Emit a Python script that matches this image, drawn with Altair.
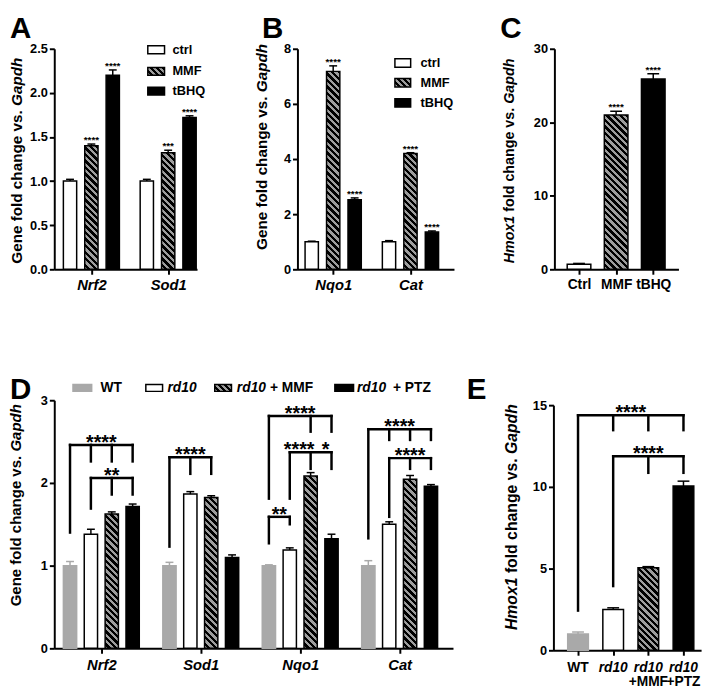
import math
import altair as alt
import pandas as pd

FONT = "Liberation Sans"

# ---------------- data ----------------
A_GENES = ["Nrf2", "Sod1"]
A_GROUPS = ["ctrl", "MMF", "tBHQ"]
A_MEAN = [[1.00, 1.40, 2.20], [1.00, 1.32, 1.72]]
A_ERR = [[0.02, 0.02, 0.06], [0.02, 0.03, 0.02]]
A_SIG = [["", "****", "****"], ["", "***", "****"]]

B_GENES = ["Nqo1", "Cat"]
B_GROUPS = ["ctrl", "MMF", "tBHQ"]
B_MEAN = [[1.00, 7.18, 2.52], [1.00, 4.20, 1.35]]
B_ERR = [[0.02, 0.20, 0.07], [0.04, 0.03, 0.04]]
B_SIG = [["", "****", "****"], ["", "****", "****"]]

C_GROUPS = ["Ctrl", "MMF", "tBHQ"]
C_MEAN = [0.70, 21.0, 25.9]
C_ERR = [0.10, 0.50, 0.70]
C_SIG = ["", "****", "****"]

D_GENES = ["Nrf2", "Sod1", "Nqo1", "Cat"]
D_GROUPS = ["WT", "rd10", "MMF", "PTZ"]
D_MEAN = [[1.00, 1.38, 1.625, 1.715],
          [1.00, 1.865, 1.825, 1.10],
          [1.00, 1.19, 2.085, 1.325],
          [1.00, 1.50, 2.045, 1.96]]
D_ERR = [[0.05, 0.06, 0.025, 0.03],
         [0.04, 0.03, 0.02, 0.03],
         [0.01, 0.025, 0.04, 0.055],
         [0.06, 0.03, 0.045, 0.02]]
# (gene, left bar, tick bars, bracket top, left leg end, tick end,
#  labels as (text, from bar, to bar, fraction of the way))
D_BRACKETS = [
    ("Nrf2", "WT", ["rd10", "MMF", "PTZ"], 2.46, 1.40, 2.26, [("****", "WT", "PTZ", 0.5)]),
    ("Nrf2", "rd10", ["MMF", "PTZ"], 2.06, 1.69, 1.86, [("**", "rd10", "PTZ", 0.5)]),
    ("Sod1", "WT", ["rd10", "MMF"], 2.31, 1.23, 2.11, [("****", "WT", "MMF", 0.5)]),
    ("Nqo1", "WT", ["MMF", "PTZ"], 2.81, 1.81, 2.62, [("****", "WT", "PTZ", 0.5)]),
    ("Nqo1", "rd10", ["MMF", "PTZ"], 2.37, 1.81, 2.17, [("****", "rd10", "MMF", 0.45), ("*", "MMF", "PTZ", 0.72)]),
    ("Nqo1", "WT", ["rd10"], 1.59, 1.27, 1.50, [("**", "WT", "rd10", 0.5)]),
    ("Cat", "WT", ["rd10", "MMF", "PTZ"], 2.65, 1.33, 2.52, [("****", "WT", "PTZ", 0.5)]),
    ("Cat", "rd10", ["MMF", "PTZ"], 2.30, 1.59, 2.17, [("****", "rd10", "PTZ", 0.5)]),
]

E_GROUPS = ["WT", "rd10", "MMF", "PTZ"]
E_LABEL1 = ["WT", "rd10", "rd10", "rd10"]
E_LABEL2 = ["", "", "+MMF", "+PTZ"]
E_MEAN = [1.00, 2.50, 5.05, 10.05]
E_ERR = [0.12, 0.10, 0.07, 0.30]
E_BRACKETS = [
    ("", "WT", ["rd10", "MMF", "PTZ"], 14.38, 2.43, 13.47, [("****", "WT", "PTZ", 0.5)]),
    ("", "rd10", ["MMF", "PTZ"], 11.87, 3.93, 10.86, [("****", "rd10", "PTZ", 0.5)]),
]

# ---------------- styles ----------------
WT_GRAY = "#a9a9a9"
STRIPE_LIGHT = "#9d9d9d"
STRIPE_DARK = "#000000"
FILL = {"ctrl": "#ffffff", "Ctrl": "#ffffff", "tBHQ": "#000000",
        "WT": WT_GRAY, "rd10": "#ffffff", "PTZ": "#000000"}
EDGE = {"ctrl": "#000000", "Ctrl": "#000000", "tBHQ": "#000000", "MMF": "#000000",
        "WT": WT_GRAY, "rd10": "#000000", "PTZ": "#000000"}


def hatch(w, h, period=4.7):
    k = (w + h) / (w * w + h * h)
    n = max(1, int(round((w + h) / math.sqrt(2) / period)))
    stops = []
    for i in range(n):
        a, m, b = round(i / n, 5), round((i + 0.5) / n, 5), round((i + 1) / n, 5)
        stops += [{"offset": a, "color": STRIPE_LIGHT}, {"offset": m, "color": STRIPE_LIGHT},
                  {"offset": m, "color": STRIPE_DARK}, {"offset": b, "color": STRIPE_DARK}]
    return {"gradient": "linear", "x1": 0, "y1": 1,
            "x2": round(w * k, 5), "y2": round(1 - h * k, 5), "stops": stops}


def one():
    return pd.DataFrame({"k": [0]})


def txt(text, x, y, **kw):
    return alt.Chart(one()).mark_text(text=text, font=FONT, **kw).encode(
        x=alt.value(x), y=alt.value(y))


def box(x0, x1, y0, y1, fill, stroke):
    return alt.Chart(one()).mark_rect(fill=fill, stroke=stroke, strokeWidth=1.5).encode(
        x=alt.value(x0), x2=alt.value(x1), y=alt.value(y0), y2=alt.value(y1))


def frame(left, right, top, bottom):
    # invisible box that fixes the panel's layout bounds
    return alt.Chart(one()).mark_rect(opacity=0).encode(
        x=alt.value(left), x2=alt.value(right), y=alt.value(top), y2=alt.value(bottom))


def vtitle(xc, top, fs, parts):
    # parts listed from the top of the rotated title downwards: (text, italic)
    em = {"Gapdh": 3.167, "Hmox1": 3.334, "fold change vs.": 7.28, "Gene fold change vs.": 10.059}
    out = []
    y = top
    for text, ital in parts:
        y += em[text] * fs
        kw = dict(angle=270, baseline="middle", fontSize=fs, fontWeight="bold", align="left")
        if ital:
            kw["fontStyle"] = "italic"
        out.append(txt(text, xc, y, **kw))
        y += 0.278 * fs
    return out


def label_expr(vals, names):
    e = "''"
    for v, n in reversed(list(zip(vals, names))):
        e = f"abs(datum.value - {v:.5f}) < 0.01 ? '{n}' : {e}"
    return e


def build(genes, groups, mean, err, sig, sp, brackets=None, extra=None):
    step = sp["step"]
    stride = sp.get("stride", 0) / step
    rows = []
    slot_of = {}
    for gi, g in enumerate(genes):
        for bi, grp in enumerate(groups):
            s = gi * stride + bi
            slot_of[(g, grp)] = s
            rows.append({"gene": g, "group": grp, "mean": mean[gi][bi], "err": err[gi][bi],
                         "sig": sig[gi][bi] if sig else "", "slot": s})
    df = pd.DataFrame(rows)
    half = sp["barw"] / 2 / step
    caph = sp["capw"] / 2 / step
    df["top"] = df["mean"] + df["err"]
    df["base"] = 0.0
    df["x0"] = df["slot"] - half
    df["x1"] = df["slot"] + half
    df["c0"] = df["slot"] - caph
    df["c1"] = df["slot"] + caph

    W, H = sp["W"], sp["H"]
    lo = -sp["off"] / step
    hi = (W - sp["off"]) / step
    xs = alt.Scale(domain=[lo, hi], nice=False, zero=False)
    if "yrange" in sp:
        ys = alt.Scale(domain=[0, sp["ymax"]], nice=False, range=sp["yrange"])
        pxu = (sp["yrange"][0] - sp["yrange"][1]) / sp["ymax"]
    else:
        ys = alt.Scale(domain=[0, sp["ymax"]], nice=False)
        pxu = H / sp["ymax"]

    if sp.get("perbar"):
        xv = list(df["slot"])
        xn = list(df["group"])
    else:
        xv = [gi * stride + (len(groups) - 1) / 2 for gi in range(len(genes))]
        xn = genes
    xaxis = alt.Axis(values=xv, labelExpr=label_expr(xv, xn), labels=sp.get("xlabels", True),
                     labelFontStyle=sp.get("xstyle", "italic"), labelFontSize=sp.get("xfs", 15),
                     labelOverlap=False)
    yaxis = alt.Axis(values=sp["yticks"], format=sp["yfmt"], labelOverlap=False)

    def X(f):
        return alt.X(f, scale=xs, axis=xaxis, title="")

    def Y(f):
        return alt.Y(f, scale=ys, axis=yaxis, title="")

    plain = [g for g in FILL if g in groups]
    egroups = [g for g in EDGE if g in groups]
    estroke = alt.Stroke("group:N", scale=alt.Scale(domain=egroups, range=[EDGE[g] for g in egroups]),
                         legend=None)
    layers = [frame(-sp["L"], sp["R"], -sp["T"], H + sp["B"])]
    layers.append(
        alt.Chart(df[df["group"] != "MMF"]).mark_rect(strokeWidth=1.5).encode(
            x=X("x0:Q"), x2="x1:Q", y=Y("mean:Q"), y2="base:Q",
            fill=alt.Fill("group:N", scale=alt.Scale(domain=plain, range=[FILL[g] for g in plain]), legend=None),
            stroke=estroke,
        )
    )
    for _, r in df[df["group"] == "MMF"].iterrows():
        sub = df[(df["gene"] == r["gene"]) & (df["group"] == "MMF")]
        layers.append(
            alt.Chart(sub).mark_rect(fill=hatch(sp["barw"], r["mean"] * pxu), stroke="black",
                                     strokeWidth=1.5).encode(
                x=X("x0:Q"), x2="x1:Q", y=Y("mean:Q"), y2="base:Q")
        )
    layers.append(alt.Chart(df).mark_rule(strokeWidth=1.5).encode(
        x=X("slot:Q"), y=Y("mean:Q"), y2="top:Q", stroke=estroke))
    layers.append(alt.Chart(df).mark_rule(strokeWidth=1.5).encode(
        x=X("c0:Q"), x2="c1:Q", y=Y("top:Q"), stroke=estroke))
    if sig:
        layers.append(alt.Chart(df[df["sig"] != ""]).mark_text(
            font=FONT, fontSize=10, fontWeight="bold", baseline="alphabetic", dy=-1).encode(
            x=X("slot:Q"), y=Y("top:Q"), text="sig:N"))
    if brackets:
        segs, labs = [], []
        for gene, left, ticks, top, lend, tend, lab in brackets:
            xl = slot_of[(gene, left)]
            xr = slot_of[(gene, ticks[-1])]
            segs.append({"xa": xl, "xb": xr, "ya": top, "yb": top})
            segs.append({"xa": xl, "xb": xl, "ya": lend, "yb": top})
            for t in ticks:
                xt = slot_of[(gene, t)]
                segs.append({"xa": xt, "xb": xt, "ya": tend, "yb": top})
            for s, a, b, f in lab:
                sa, sb = slot_of[(gene, a)], slot_of[(gene, b)]
                labs.append({"xm": sa + f * (sb - sa), "y": top, "t": s})
        layers.append(alt.Chart(pd.DataFrame(segs)).mark_rule(
            strokeWidth=2.5, strokeCap="square", color="black").encode(
            x=X("xa:Q"), x2="xb:Q", y=Y("ya:Q"), y2="yb:Q"))
        layers.append(alt.Chart(pd.DataFrame(labs)).mark_text(
            font=FONT, fontSize=20, fontWeight="bold", baseline="alphabetic", dy=4).encode(
            x=X("xm:Q"), y=Y("y:Q"), text="t:N"))
    if extra:
        layers += extra(df, X)
    return layers


# ---------------- panels (sizes / layout) ----------------
SA = dict(W=145, H=224, ymax=2.5, yticks=[0, 0.5, 1, 1.5, 2, 2.5], yfmt=".1f",
          step=21.7, off=16, stride=78, barw=13.5, capw=8, L=46, R=195, T=35, B=40)
SB = dict(W=159, H=224, ymax=8, yticks=[0, 2, 4, 6, 8], yfmt="d",
          step=21.8, off=14.5, stride=78.5, barw=13.5, capw=8, L=50, R=199, T=35, B=40)
SC = dict(W=126, H=224, ymax=30, yticks=[0, 10, 20, 30], yfmt="d",
          step=37.7, off=25, barw=24, capw=12, perbar=True, xstyle="normal", xfs=14,
          L=60, R=140, T=35, B=40)
SD = dict(W=405, H=252, ymax=3, yticks=[0, 1, 2, 3], yfmt="d",
          step=21.2, off=16, stride=101, barw=13.5, capw=8, L=46, R=410, T=45, B=40)
SE = dict(W=150, H=254, yrange=[254, 5], ymax=15, yticks=[0, 5, 10, 15], yfmt="d",
          step=35.7, off=25, barw=21, capw=12, perbar=True, xlabels=False,
          L=95, R=155, T=45, B=40)

GENE_TITLE = [("Gapdh", True), ("Gene fold change vs.", False)]
HMOX_TITLE = [("Gapdh", True), ("fold change vs.", False), ("Hmox1", True)]


def letter(ch, x, y):
    return txt(ch, x, y, fontSize=30, fontWeight="bold", align="left", baseline="top")


def legend3(x0, x1, ys, xt, h):
    out = []
    for name, yc in zip(["ctrl", "MMF", "tBHQ"], ys):
        fill = hatch(x1 - x0, h) if name == "MMF" else FILL[name]
        out.append(box(x0, x1, yc - h / 2, yc + h / 2, fill, "black"))
        out.append(txt(name, xt, yc, align="left", baseline="middle", fontSize=13, fontWeight="bold"))
    return out


layA = build(A_GENES, A_GROUPS, A_MEAN, A_ERR, A_SIG, SA)
layA += [letter("A", -45, -35)]
layA += vtitle(-38, 9, 15.5, GENE_TITLE)
layA += legend3(95, 112, [1, 23, 43], 120, 8)
pA = alt.layer(*layA).properties(width=SA["W"], height=SA["H"])

layB = build(B_GENES, B_GROUPS, B_MEAN, B_ERR, B_SIG, SB)
layB += [letter("B", -36, -35)]
layB += vtitle(-36, -5, 15.5, GENE_TITLE)
layB += legend3(99, 115, [14.5, 34.5, 55], 125, 8.5)
pB = alt.layer(*layB).properties(width=SB["W"], height=SB["H"])

layC = build([""], C_GROUPS, [C_MEAN], [C_ERR], [C_SIG], SC)
layC += [letter("C", -55, -35)]
layC += vtitle(-45, 10, 14.5, HMOX_TITLE)
pC = alt.layer(*layC).properties(width=SC["W"], height=SC["H"])

layD = build(D_GENES, D_GROUPS, D_MEAN, D_ERR, None, SD, brackets=D_BRACKETS)
layD += [letter("D", -45, -25)]
layD += vtitle(-38.5, 4, 15.2, GENE_TITLE)
ly = -12.5
layD += [
    box(19, 38, ly - 3.5, ly + 3.5, WT_GRAY, WT_GRAY),
    txt("WT", 47, ly, align="left", baseline="middle", fontSize=14, fontWeight="bold"),
    box(93, 110, ly - 3.5, ly + 3.5, "#ffffff", "black"),
    txt("rd10", 115, ly, align="left", baseline="middle", fontSize=14, fontWeight="bold", fontStyle="italic"),
    box(163, 180, ly - 3.5, ly + 3.5, hatch(17, 7), "black"),
    txt("rd10", 215, ly, align="right", baseline="middle", fontSize=14, fontWeight="bold", fontStyle="italic"),
    txt("+ MMF", 219, ly, align="left", baseline="middle", fontSize=14, fontWeight="bold"),
    box(285, 304, ly - 3.5, ly + 3.5, "#000000", "black"),
    txt("rd10", 337, ly, align="right", baseline="middle", fontSize=14, fontWeight="bold", fontStyle="italic"),
    txt("+ PTZ", 344, ly, align="left", baseline="middle", fontSize=14, fontWeight="bold"),
]
pD = alt.layer(*layD).properties(width=SD["W"], height=SD["H"])


def e_labels(df, X):
    d = df.copy()
    d["l1"] = E_LABEL1
    d["l2"] = E_LABEL2
    d["it"] = [l != "WT" for l in E_LABEL1]
    H = SE["H"]
    return [
        alt.Chart(d[~d["it"]]).mark_text(font=FONT, fontSize=14, fontWeight="bold", baseline="middle").encode(
            x=X("slot:Q"), y=alt.value(H + 18), text="l1:N"),
        alt.Chart(d[d["it"]]).mark_text(font=FONT, fontSize=14, fontWeight="bold", fontStyle="italic",
                                        baseline="middle").encode(
            x=X("slot:Q"), y=alt.value(H + 18), text="l1:N"),
        alt.Chart(d[d["l2"] != ""]).mark_text(font=FONT, fontSize=14, fontWeight="bold", baseline="middle").encode(
            x=X("slot:Q"), y=alt.value(H + 32), text="l2:N"),
    ]


layE = build([""], E_GROUPS, [E_MEAN], [E_ERR], None, SE, brackets=E_BRACKETS, extra=e_labels)
layE += [letter("E", -88, -25)]
layE += vtitle(-42, 4, 16, HMOX_TITLE)
pE = alt.layer(*layE).properties(width=SE["W"], height=SE["H"])

ind = dict(fill="independent", stroke="independent")
row1 = alt.hconcat(pA, pB, pC, spacing=0).resolve_scale(**ind)
row2 = alt.hconcat(pD, pE, spacing=0).resolve_scale(**ind)
chart = alt.vconcat(row1, row2, spacing=46).resolve_scale(**ind).properties(
    padding=0, background="white")
chart = chart.configure_view(stroke="transparent").configure_axis(
    grid=False, domainColor="black", domainWidth=2, tickColor="black", tickWidth=2, tickSize=5,
    labelColor="black", labelFont=FONT, labelFontWeight="bold", labelFontSize=13, labelPadding=2,
).configure_axisX(labelPadding=4, labelAngle=0)

chart.save("out.html", embed_options={"renderer": "svg", "actions": False})
